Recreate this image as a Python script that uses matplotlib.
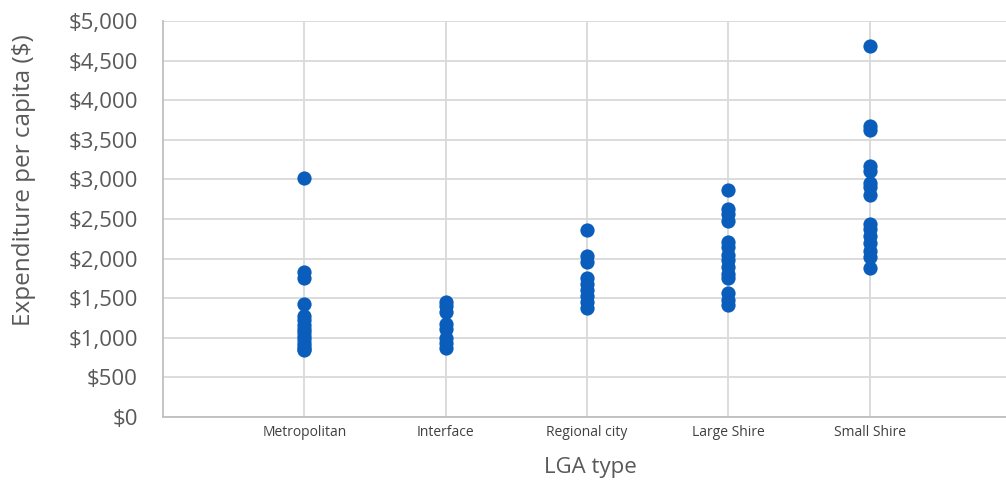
import numpy as np
import matplotlib.pyplot as plt
from matplotlib.ticker import FuncFormatter

# LGA types and per-capita expenditure
categories = ["Metropolitan", "Interface", "Regional city", "Large Shire", "Small Shire"]

metropolitan = [3020, 1830, 1750, 1430, 1280, 1230, 1160, 1110, 1070, 1020, 980, 940, 900, 860, 840]
interface = [1450, 1400, 1330, 1170, 1110, 1000, 940, 870]
regional_city = [2360, 2030, 1960, 1750, 1680, 1600, 1530, 1450, 1380]
large_shire = [2870, 2620, 2560, 2480, 2210, 2150, 2050, 1980, 1900, 1800, 1750, 1560, 1480, 1420]
small_shire = [4690, 3680, 3620, 3170, 3100, 2950, 2900, 2800, 2440, 2380, 2280, 2200, 2100, 2020, 1880]

series = [metropolitan, interface, regional_city, large_shire, small_shire]

W, H = 1006, 482
fig = plt.figure(figsize=(W / 100, H / 100), dpi=100)
ax = fig.add_axes([163 / W, 1 - 417 / H, (1011 - 163) / W, (417 - 21) / H])

for i, vals in enumerate(series):
    ax.scatter(np.full(len(vals), i + 1), vals, s=105, color="#0B5DBB", zorder=3, linewidths=0)

ax.set_xlim(0, 6)
ax.set_ylim(0, 5000)
ax.set_yticks(np.arange(0, 5001, 500))
ax.set_xticks(np.arange(1, 6))
ax.set_xticklabels(categories, fontsize=10, color="#404040", family="Open Sans")
ax.yaxis.set_major_formatter(FuncFormatter(lambda v, p: "${:,.0f}".format(v)))
for lbl in ax.get_yticklabels():
    lbl.set_fontsize(16)
    lbl.set_color("#595959")
    lbl.set_family("Open Sans")

ax.grid(True, color="#d9d9d9", linewidth=1.3, zorder=0)
ax.set_axisbelow(True)
ax.tick_params(axis="both", length=0)
ax.tick_params(axis="y", pad=18)
ax.tick_params(axis="x", pad=6)
for side in ["top", "right"]:
    ax.spines[side].set_visible(False)
for side in ["left", "bottom"]:
    ax.spines[side].set_color("#bfbfbf")
    ax.spines[side].set_linewidth(1.3)

fig.text(24 / W, 1 - 180 / H, "Expenditure per capita ($)", rotation=90, ha="center", va="center",
         fontsize=17.5, color="#595959", family="Open Sans")
fig.text(590 / W, 1 - 468 / H, "LGA type", ha="center", va="center",
         fontsize=16, color="#595959", family="Open Sans")

fig.savefig("out.png", dpi=100)
